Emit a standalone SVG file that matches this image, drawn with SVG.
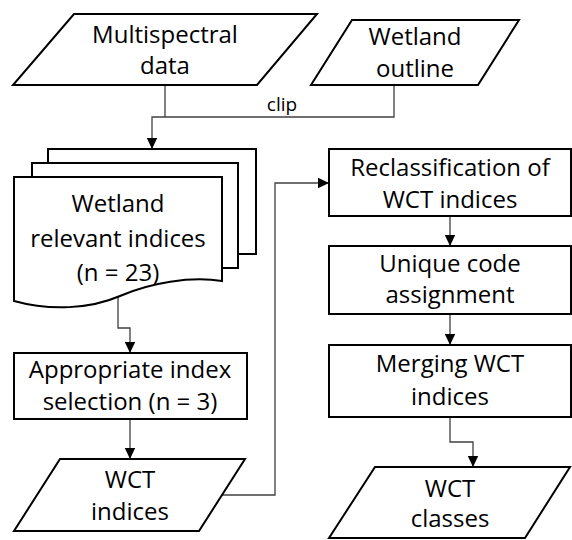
<svg xmlns="http://www.w3.org/2000/svg" width="572" height="540" viewBox="0 0 572 540">
  <defs>
    <marker id="arrow" markerUnits="userSpaceOnUse" markerWidth="12" markerHeight="12" viewBox="0 0 12 12" refX="11" refY="6" orient="auto">
      <path d="M0,0.8 L11,6 L0,11.2 Z" fill="#000"/>
    </marker>
    <style>
      .shape { fill: #fff; stroke: #000; stroke-width: 2; stroke-linejoin: miter; }
      .link { fill: none; stroke: #404040; stroke-width: 1.3; }
      .label { font-family: "Open Sans", "Liberation Sans", sans-serif; font-size: 24px; fill: #000; text-anchor: middle; }
      .small { font-family: "Open Sans", "Liberation Sans", sans-serif; font-size: 19px; fill: #000; text-anchor: middle; }
    </style>
  </defs>

  <!-- connectors -->
  <g id="connectors">
    <polyline class="link" points="165,85 165,117"/>
    <polyline class="link" points="394,85 394,117 152,117 152,149" marker-end="url(#arrow)"/>
    <text class="small" x="282" y="111">clip</text>
    <polyline class="link" points="118,297 118,328 130,328 130,353" marker-end="url(#arrow)"/>
    <polyline class="link" points="130,419 130,459" marker-end="url(#arrow)"/>
    <polyline class="link" points="222,495 275,495 275,183 329,183" marker-end="url(#arrow)"/>
    <polyline class="link" points="450,216 450,246" marker-end="url(#arrow)"/>
    <polyline class="link" points="450,314 450,345" marker-end="url(#arrow)"/>
    <polyline class="link" points="450,417 450,442 473,442 473,467" marker-end="url(#arrow)"/>
  </g>

  <!-- inputs -->
  <g id="multispectral-data">
    <polygon class="shape" points="74,14 317,14 257,85 13,85"/>
    <text class="label" x="165" y="43">Multispectral</text>
    <text class="label" x="165" y="74">data</text>
  </g>

  <g id="wetland-outline">
    <polygon class="shape" points="352,20 519,20 478,85 311,85"/>
    <text class="label" x="415" y="45">Wetland</text>
    <text class="label" x="415" y="77">outline</text>
  </g>

  <!-- stacked documents -->
  <g id="wetland-relevant-indices">
    <rect class="shape" x="48" y="149" width="208" height="105"/>
    <rect class="shape" x="32" y="163" width="206" height="105"/>
    <path class="shape" d="M14,177 L222,177 L222,281 C190,276 150,283 120,296 C90,309 50,311 14,301 Z"/>
    <text class="label" x="118" y="212">Wetland</text>
    <text class="label" x="118" y="247">relevant indices</text>
    <text class="label" x="118" y="281">(n = 23)</text>
  </g>

  <g id="index-selection">
    <rect class="shape" x="14" y="353" width="233" height="66"/>
    <text class="label" x="130" y="378">Appropriate index</text>
    <text class="label" x="130" y="410">selection (n = 3)</text>
  </g>

  <g id="wct-indices">
    <polygon class="shape" points="60,459 245,459 199,531 14,531"/>
    <text class="label" x="130" y="488">WCT</text>
    <text class="label" x="130" y="520">indices</text>
  </g>

  <!-- right column -->
  <g id="reclassification">
    <rect class="shape" x="329" y="149" width="242" height="67"/>
    <text class="label" x="450" y="176">Reclassification of</text>
    <text class="label" x="450" y="208">WCT indices</text>
  </g>

  <g id="unique-code">
    <rect class="shape" x="329" y="246" width="242" height="68"/>
    <text class="label" x="450" y="272">Unique code</text>
    <text class="label" x="450" y="303">assignment</text>
  </g>

  <g id="merging">
    <rect class="shape" x="329" y="345" width="242" height="72"/>
    <text class="label" x="450" y="372">Merging WCT</text>
    <text class="label" x="450" y="405">indices</text>
  </g>

  <g id="wct-classes">
    <polygon class="shape" points="375,467 570,467 525,538 329,538"/>
    <text class="label" x="450" y="497">WCT</text>
    <text class="label" x="450" y="527">classes</text>
  </g>
</svg>
